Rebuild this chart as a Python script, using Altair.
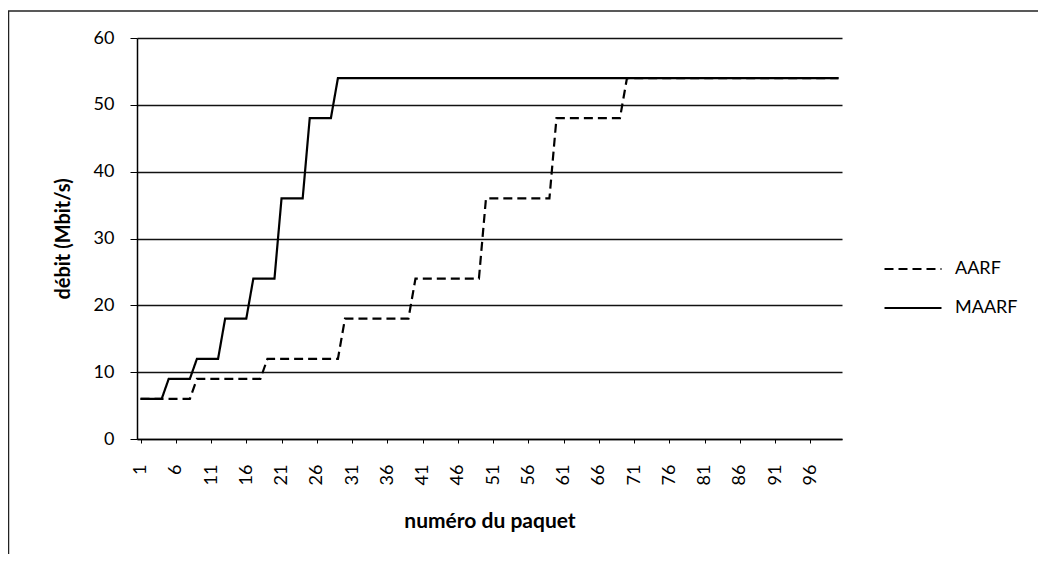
import altair as alt
import pandas as pd

# packet numbers 1..100
PAQUETS = list(range(1, 101))

AARF = [
    6, 6, 6, 6, 6, 6, 6, 6, 9, 9,
    9, 9, 9, 9, 9, 9, 9, 9, 12, 12,
    12, 12, 12, 12, 12, 12, 12, 12, 12, 18,
    18, 18, 18, 18, 18, 18, 18, 18, 18, 24,
    24, 24, 24, 24, 24, 24, 24, 24, 24, 36,
    36, 36, 36, 36, 36, 36, 36, 36, 36, 48,
    48, 48, 48, 48, 48, 48, 48, 48, 48, 54,
    54, 54, 54, 54, 54, 54, 54, 54, 54, 54,
    54, 54, 54, 54, 54, 54, 54, 54, 54, 54,
    54, 54, 54, 54, 54, 54, 54, 54, 54, 54,
]

MAARF = [
    6, 6, 6, 6, 9, 9, 9, 9, 12, 12,
    12, 12, 18, 18, 18, 18, 24, 24, 24, 24,
    36, 36, 36, 36, 48, 48, 48, 48, 54, 54,
    54, 54, 54, 54, 54, 54, 54, 54, 54, 54,
    54, 54, 54, 54, 54, 54, 54, 54, 54, 54,
    54, 54, 54, 54, 54, 54, 54, 54, 54, 54,
    54, 54, 54, 54, 54, 54, 54, 54, 54, 54,
    54, 54, 54, 54, 54, 54, 54, 54, 54, 54,
    54, 54, 54, 54, 54, 54, 54, 54, 54, 54,
    54, 54, 54, 54, 54, 54, 54, 54, 54, 54,
]

SERIES = ["AARF", "MAARF"]
X_TICKS = [1, 6, 11, 16, 21, 26, 31, 36, 41, 46, 51, 56, 61, 66, 71, 76, 81, 86, 91, 96]
Y_TICKS = [0, 10, 20, 30, 40, 50, 60]

rows = []
for name, vals in zip(SERIES, [AARF, MAARF]):
    for p, v in zip(PAQUETS, vals):
        rows.append({"paquet": p, "debit": v, "serie": name})
df = pd.DataFrame(rows)

FONT = "Lato"

lines = alt.Chart(df).mark_line(color="black", strokeWidth=2.2).encode(
    x=alt.X(
        "paquet:Q",
        scale=alt.Scale(domain=[0.5, 100.5], nice=False, zero=False),
        axis=alt.Axis(
            values=X_TICKS,
            title="numéro du paquet",
            labelAngle=270,
            labelFontSize=18,
            labelPadding=21,
            tickSize=4,
            tickColor="black",
            domainColor="black",
            domainWidth=1.5,
            grid=False,
            titleFontSize=21,
            titleFontWeight="bold",
            titlePadding=26,
        ),
    ),
    y=alt.Y(
        "debit:Q",
        scale=alt.Scale(domain=[0, 60], nice=False),
        axis=alt.Axis(
            values=Y_TICKS,
            title="débit (Mbit/s)",
            labelFontSize=18,
            labelPadding=16,
            tickSize=7,
            tickColor="black",
            domainColor="black",
            domainWidth=1.5,
            grid=True,
            gridColor="#111111",
            gridWidth=1.4,
            titleFontSize=20,
            titleFontWeight="bold",
            titlePadding=20,
        ),
    ),
    strokeDash=alt.StrokeDash(
        "serie:N",
        scale=alt.Scale(domain=SERIES, range=[[9, 5], [1, 0]]),
        legend=alt.Legend(
            title=None,
            orient="none",
            legendX=746,
            legendY=201,
            labelFontSize=18,
            labelFont=FONT,
            symbolType="stroke",
            symbolSize=3250,
            symbolStrokeWidth=2,
            symbolStrokeColor="black",
            rowPadding=-17,
            labelOffset=12,
        ),
    ),
    order=alt.Order("paquet:Q"),
)

one = alt.Data(values=[{"a": 1}])
frame_top = alt.Chart(one).mark_rule(color="#222222", strokeWidth=1.5).encode(
    x=alt.value(-129), x2=alt.value(901), y=alt.value(-27)
)
frame_left = alt.Chart(one).mark_rule(color="#222222", strokeWidth=1.5).encode(
    x=alt.value(-128.5), y=alt.value(-27), y2=alt.value(530)
)

chart = alt.layer(frame_top, frame_left, lines).properties(
    width=705,
    height=401,
    padding={"left": 129, "top": 30, "right": 196, "bottom": 115},
    autosize=alt.AutoSizeParams(type="none"),
).configure(
    font=FONT,
).configure_view(
    stroke=None
).configure_axis(
    labelFont=FONT, titleFont=FONT, labelColor="black", titleColor="black"
)

chart.save("out.html", embed_options={"renderer": "svg", "actions": False})
